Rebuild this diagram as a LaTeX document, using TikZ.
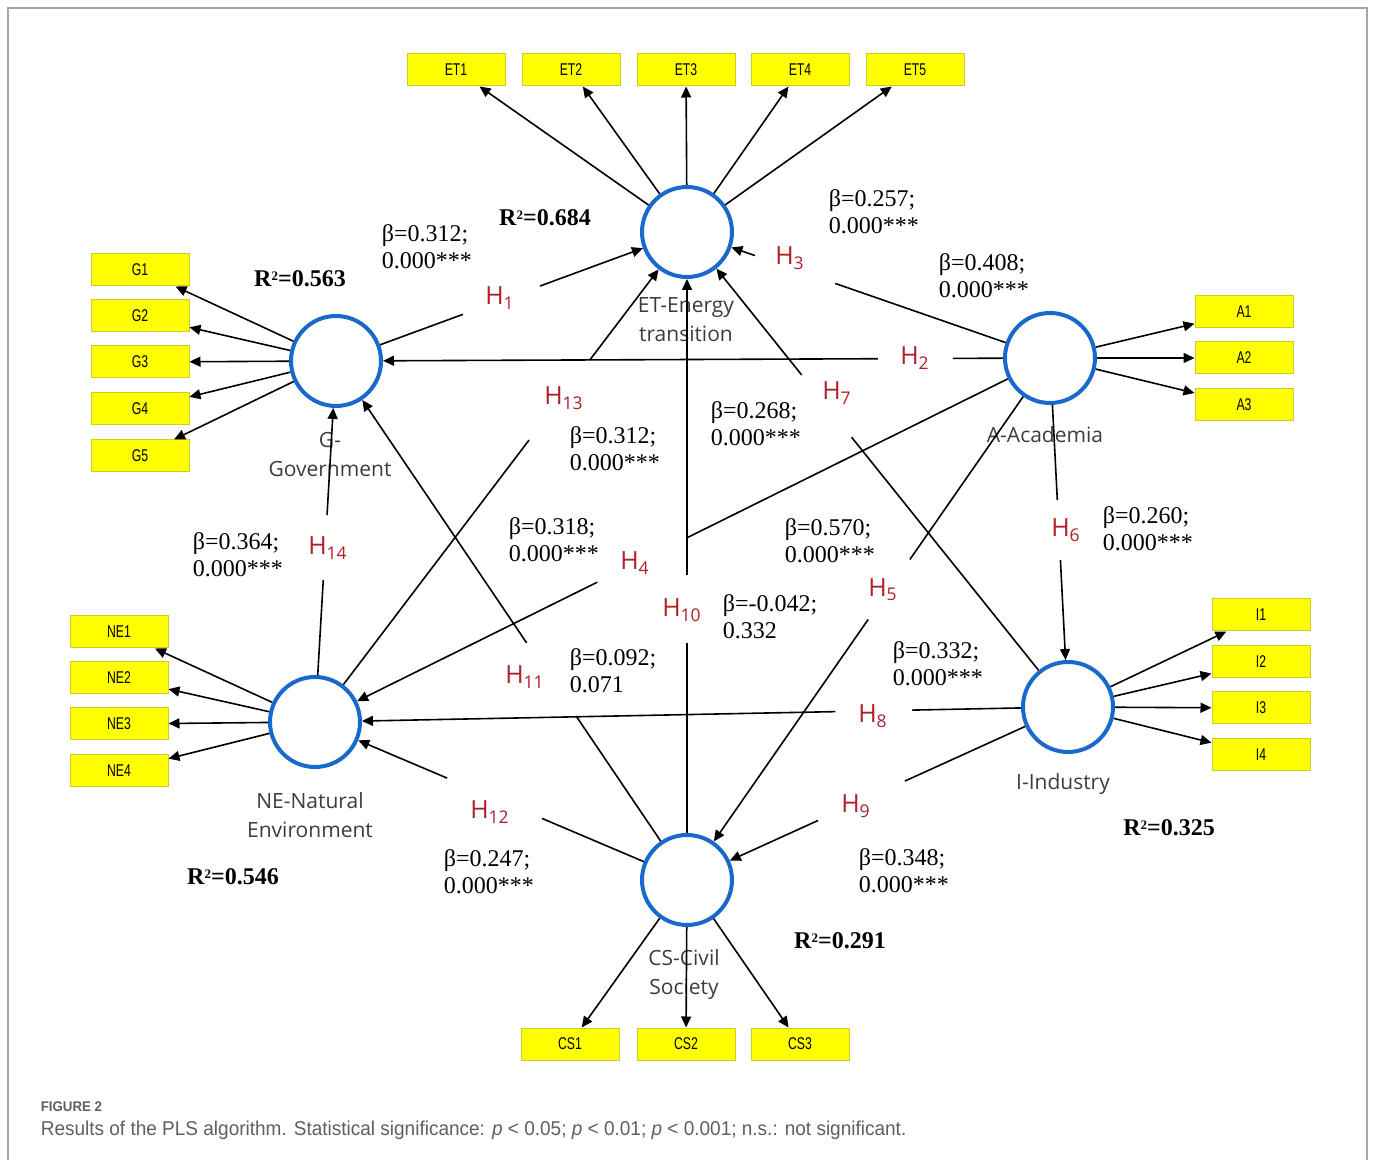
\documentclass[tikz,border=0pt]{standalone}
\usepackage{fontspec}
\setmainfont{Liberation Serif}
\newfontfamily\labfont{Open Sans}
\newfontfamily\boxfont[FakeStretch=0.72]{Liberation Sans}
\newfontfamily\capfont[FakeStretch=0.95]{Liberation Sans}
\usetikzlibrary{arrows.meta,calc}
\definecolor{lvblue}{RGB}{25,105,205}
\definecolor{hred}{RGB}{176,30,40}
\definecolor{boxyellow}{RGB}{255,255,0}
\definecolor{boxedge}{RGB}{205,205,40}
\definecolor{labgray}{RGB}{60,60,60}
\definecolor{capgray}{RGB}{95,95,95}
\newcommand{\rsqtwo}{R\raisebox{0.55ex}{\fontsize{6.5}{7}\selectfont 2}}

\begin{document}
\begin{tikzpicture}[x=0.5pt,y=-0.5pt,thick,>={Triangle[length=5.5pt,width=5pt]},
  latent/.style={circle,draw=lvblue,line width=2pt,minimum size=45pt,inner sep=0pt},
  item/.style={rectangle,draw=boxedge,line width=0.5pt,fill=boxyellow,minimum width=49pt,
    minimum height=16pt,inner sep=0pt,font=\boxfont\fontsize{8.5}{10}\selectfont},
  hlab/.style={text=hred,font=\labfont\fontsize{12.5}{14}\selectfont},
  beta/.style={anchor=west,align=left,inner sep=0pt,font=\fontsize{12}{13.5}\selectfont},
  rsq/.style={font=\bfseries\fontsize{12}{14}\selectfont},
  lvname/.style={text=labgray,align=center,font=\labfont\fontsize{10.5}{14.5}\selectfont}]
\useasboundingbox (0,0) rectangle (1373,1160);
\draw[gray!70,line width=0.75pt] (8,1160) -- (8,8) -- (1367,8) -- (1367,1160);

% latent variables
\node[latent] (ET) at (687,232) {};
\node[latent] (G) at (336,361) {};
\node[latent] (A) at (1050,358) {};
\node[latent] (NE) at (315,722) {};
\node[latent] (I) at (1068,707) {};
\node[latent] (CS) at (687,880) {};

\node[lvname] at (686,320) {ET-Energy\\transition};
\node[lvname] at (330,455) {G-\\Government};
\node[lvname] at (1045,435) {A-Academia};
\node[lvname] at (310,815) {NE-Natural\\Environment};
\node[lvname] at (1063,784) {I-Industry};
\node[lvname] at (684,975) {CS-Civil\\Society};

% indicators
\foreach \i/\x in {1/456,2/571,3/686,4/800,5/915}
  {\node[item] (ET\i) at (\x,70) {ET\i}; \draw[->] (ET) -- (ET\i);}
\foreach \i/\y in {1/270,2/316,3/362,4/409,5/456}
  {\node[item] (G\i) at (140,\y) {G\i}; \draw[->] (G) -- (G\i);}
\foreach \i/\y in {1/312,2/358,3/405}
  {\node[item] (A\i) at (1244,\y) {A\i}; \draw[->] (A) -- (A\i);}
\foreach \i/\y in {1/632,2/678,3/724,4/771}
  {\node[item] (NE\i) at (119,\y) {NE\i}; \draw[->] (NE) -- (NE\i);}
\foreach \i/\y in {1/615,2/662,3/708,4/755}
  {\node[item] (I\i) at (1261,\y) {I\i}; \draw[->] (I) -- (I\i);}
\foreach \i/\x in {1/570,2/686,3/800}
  {\node[item] (CS\i) at (\x,1044) {CS\i}; \draw[->] (CS) -- (CS\i);}

% hypotheses: gap on each path, label in the gap
\foreach \hn/\src/\dst/\ga/\gb/\lx/\ly in {
    1/G/ET/.362/.581/500/298, 2/A/G/.136/.241/915/358,
    3/A/ET/.592/.813/790/258, 4/A/NE/.494/.616/635/563,
    5/A/CS/.386/.501/883/590, 6/A/I/.407/.579/1066/530,
    7/I/ET/.568/.699/837/393, 8/I/NE/.207/.309/873/716,
    9/I/CS/.428/.656/856/806, 10/CS/ET/.366/.471/682/610,
    11/CS/G/.314/.457/525/677, 12/CS/NE/.390/.645/490/812,
    13/NE/ET/.5755/.739/564/398, 14/NE/G/.393/.573/328/548}
  {\coordinate (h\hn a) at ($(\src)!\ga!(\dst)$);
   \coordinate (h\hn b) at ($(\src)!\gb!(\dst)$);
   \draw (\src) -- (h\hn a);
   \draw[->] (h\hn b) -- (\dst);
   \node[hlab] (H\hn) at (\lx,\ly) {H\textsubscript{\hn}};}

% path coefficients
\node[beta] at (381,247) {β=0.312;\\0.000***};
\node[beta] at (828,212) {β=0.257;\\0.000***};
\node[beta] at (938,276) {β=0.408;\\0.000***};
\node[beta] at (569,449) {β=0.312;\\0.000***};
\node[beta] at (710,424) {β=0.268;\\0.000***};
\node[beta] at (192,555) {β=0.364;\\0.000***};
\node[beta] at (508,540) {β=0.318;\\0.000***};
\node[beta] at (784,541) {β=0.570;\\0.000***};
\node[beta] at (1102,529) {β=0.260;\\0.000***};
\node[beta] at (722,617) {β=-0.042;\\0.332};
\node[beta] at (569,671) {β=0.092;\\0.071};
\node[beta] at (892,664) {β=0.332;\\0.000***};
\node[beta] at (443,872) {β=0.247;\\0.000***};
\node[beta] at (858,871) {β=0.348;\\0.000***};

% explained variance
\node[rsq] at (545,218) {\rsqtwo=0.684};
\node[rsq] at (300,279) {\rsqtwo=0.563};
\node[rsq] at (233,877) {\rsqtwo=0.546};
\node[rsq] at (1169,828) {\rsqtwo=0.325};
\node[rsq] at (840,941) {\rsqtwo=0.291};

% caption
\node[anchor=west,inner sep=0pt,text=capgray,font=\capfont\bfseries\fontsize{7}{8}\selectfont]
  at (40,1107) {FIGURE 2};
\node[anchor=west,inner sep=0pt,text=capgray,font=\capfont\fontsize{10}{11}\selectfont]
  at (40,1130) {Results of the PLS algorithm. Statistical significance: \textit{p} < 0.05;
  \textit{p} < 0.01; \textit{p} < 0.001; n.s.: not significant.};
\end{tikzpicture}
\end{document}
